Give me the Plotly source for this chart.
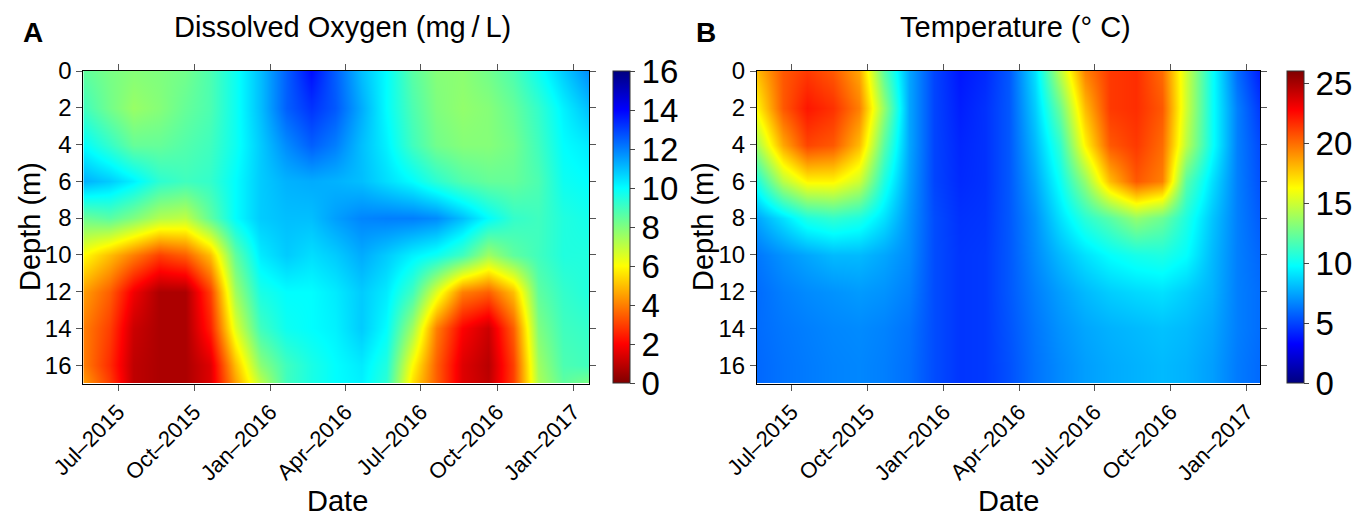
import plotly.graph_objects as go

# Sampling dates (monthly profiles) and depths
dates = ["2015-05-20", "2015-06-20", "2015-07-20", "2015-08-20", "2015-09-20",
         "2015-10-20", "2015-11-20", "2015-12-20", "2016-01-20", "2016-02-20",
         "2016-03-20", "2016-04-20", "2016-05-20", "2016-06-20", "2016-07-20",
         "2016-08-20", "2016-09-20", "2016-10-20", "2016-11-20", "2016-12-20",
         "2017-01-20"]
depths = [0, 2, 4, 6, 8, 10, 12, 14, 16, 17]

# Dissolved oxygen (mg/L), one list per depth
do_0m = [8.5, 8.1, 7.9, 8.0, 8.2, 8.8, 9.8, 11.0, 12.5, 13.8, 12.5, 11.0, 10.0, 8.6, 7.9, 7.8, 8.2, 8.8, 9.8, 10.8, 11.8]
do_2m = [9.0, 8.2, 7.6, 7.9, 8.4, 8.8, 9.8, 11.0, 12.5, 13.2, 12.6, 11.3, 10.0, 8.8, 8.0, 7.7, 7.9, 8.4, 9.2, 10.2, 11.0]
do_4m = [10.0, 9.2, 8.4, 8.4, 8.7, 9.0, 9.8, 10.8, 11.8, 12.5, 12.0, 11.0, 10.2, 9.0, 8.2, 7.9, 7.9, 8.2, 9.0, 10.0, 10.3]
do_6m = [11.2, 10.8, 10.2, 9.3, 9.0, 9.2, 10.0, 10.8, 11.2, 11.3, 11.2, 11.0, 10.5, 10.0, 9.3, 8.7, 8.4, 8.4, 8.8, 9.8, 10.0]
do_8m = [8.3, 8.6, 8.0, 7.2, 7.0, 8.5, 10.0, 10.8, 11.0, 11.0, 11.5, 11.9, 12.0, 12.0, 11.8, 11.0, 10.0, 9.2, 9.0, 9.5, 9.7]
do_10m = [6.0, 5.0, 4.0, 3.0, 3.5, 5.0, 8.5, 10.3, 10.8, 10.5, 10.8, 11.3, 10.8, 10.2, 9.8, 9.0, 7.5, 8.5, 9.0, 9.5, 9.5]
do_12m = [4.5, 3.5, 1.8, 0.7, 0.7, 3.0, 7.5, 9.6, 10.0, 10.0, 10.3, 10.8, 10.3, 9.0, 6.5, 4.0, 3.5, 5.0, 8.5, 9.2, 9.5]
do_14m = [4.0, 3.0, 1.2, 0.7, 0.7, 2.5, 6.5, 9.0, 9.8, 10.0, 10.2, 10.8, 10.0, 7.5, 4.0, 2.0, 1.2, 3.5, 8.0, 9.0, 9.2]
do_16m = [4.0, 2.7, 1.0, 0.7, 0.7, 1.5, 5.0, 7.8, 9.0, 9.6, 10.0, 10.3, 9.5, 6.0, 3.5, 1.5, 0.9, 3.0, 7.5, 8.8, 9.0]
do_17m = [4.5, 3.0, 1.0, 0.7, 0.7, 1.5, 4.5, 7.0, 9.0, 9.6, 10.0, 10.2, 9.3, 5.5, 3.5, 1.5, 1.0, 3.0, 7.3, 8.5, 8.0]

# Water temperature (deg C), one list per depth
temp_0m = [18.0, 20.5, 21.3, 20.5, 18.5, 12.0, 7.5, 5.0, 3.8, 4.3, 5.5, 9.0, 14.5, 19.5, 21.3, 21.6, 20.0, 15.0, 10.0, 6.0, 3.8]
temp_2m = [16.5, 20.5, 22.2, 21.5, 19.5, 13.5, 7.5, 5.0, 4.0, 4.5, 5.5, 8.5, 12.5, 18.0, 21.3, 21.6, 20.5, 15.0, 10.0, 6.5, 4.5]
temp_4m = [14.0, 18.5, 21.0, 20.5, 18.0, 12.0, 7.5, 5.0, 4.2, 4.5, 5.5, 8.0, 11.0, 16.5, 20.5, 21.3, 20.0, 14.5, 10.0, 6.5, 5.0]
temp_6m = [10.5, 14.5, 16.5, 16.5, 15.0, 10.5, 7.3, 5.0, 4.3, 4.5, 5.5, 7.5, 10.0, 13.5, 18.0, 20.5, 19.5, 12.0, 9.0, 6.5, 5.2]
temp_8m = [7.5, 9.0, 10.5, 11.0, 10.5, 9.0, 7.0, 5.2, 4.5, 4.6, 5.5, 7.0, 9.0, 10.8, 12.0, 13.5, 12.5, 10.5, 8.3, 6.5, 5.5]
temp_10m = [6.3, 7.0, 7.5, 8.0, 8.0, 7.5, 6.8, 5.2, 4.6, 4.7, 5.5, 6.8, 8.0, 9.0, 9.8, 10.3, 10.5, 9.8, 8.0, 6.5, 5.8]
temp_12m = [6.0, 6.5, 6.8, 7.0, 7.2, 7.0, 6.5, 5.2, 4.6, 4.7, 5.5, 6.5, 7.3, 8.0, 8.5, 8.8, 9.0, 8.5, 7.8, 6.5, 6.0]
temp_14m = [6.0, 6.3, 6.5, 6.7, 6.8, 6.6, 6.2, 5.2, 4.6, 4.7, 5.4, 6.3, 7.0, 7.5, 7.8, 8.0, 8.2, 8.0, 7.5, 6.5, 6.0]
temp_16m = [5.9, 6.2, 6.4, 6.6, 6.7, 6.5, 6.1, 5.2, 4.6, 4.7, 5.3, 6.2, 6.8, 7.3, 7.6, 7.8, 8.0, 7.8, 7.3, 6.4, 5.9]
temp_17m = [5.9, 6.2, 6.4, 6.6, 6.7, 6.5, 6.1, 5.2, 4.6, 4.7, 5.3, 6.2, 6.8, 7.3, 7.6, 7.8, 8.0, 7.8, 7.3, 6.4, 5.9]

# Axis tick labels
tick_dates = ["2015-07-01", "2015-10-01", "2016-01-01", "2016-04-01",
              "2016-07-01", "2016-10-01", "2017-01-01"]
tick_labels = ["Jul\u20132015", "Oct\u20132015", "Jan\u20132016", "Apr\u20132016",
               "Jul\u20132016", "Oct\u20132016", "Jan\u20132017"]
depth_ticks = [0, 2, 4, 6, 8, 10, 12, 14, 16]

do_grid = [do_0m, do_2m, do_4m, do_6m, do_8m, do_10m, do_12m, do_14m, do_16m, do_17m]
temp_grid = [temp_0m, temp_2m, temp_4m, temp_6m, temp_8m, temp_10m, temp_12m,
             temp_14m, temp_16m, temp_17m]

jet = [[0.0, "#00007F"], [0.125, "#0000FF"], [0.25, "#007FFF"], [0.375, "#00FFFF"],
       [0.5, "#7FFF7F"], [0.625, "#FFFF00"], [0.75, "#FF7F00"], [0.875, "#FF0000"],
       [1.0, "#7F0000"]]

FONT = "Liberation Sans, Arial, Helvetica, sans-serif"
W, H = 1359, 517


def px_x(p):
    return p / W


def px_y(p):
    return 1 - p / H


y_dom = [px_y(383.5), px_y(71)]
xa_dom = [px_x(83.3), px_x(589)]
xb_dom = [px_x(757), px_x(1260)]

cb_common = dict(
    thickness=17, thicknessmode="pixels", len=y_dom[1] - y_dom[0], lenmode="fraction",
    y=(y_dom[0] + y_dom[1]) / 2, yanchor="middle", xanchor="left", xpad=0, ypad=0,
    outlinecolor="#333333", outlinewidth=1, ticks="outside", ticklen=5,
    tickcolor="#444444", tickfont=dict(family=FONT, size=33, color="black"),
)

fig = go.Figure()
fig.add_trace(go.Heatmap(
    x=dates, y=depths, z=do_grid, colorscale=jet, reversescale=True,
    zmin=0, zmax=16, zsmooth="best", xaxis="x", yaxis="y",
    colorbar=dict(x=px_x(613.3), tickvals=[0, 2, 4, 6, 8, 10, 12, 14, 16], **cb_common),
))
fig.add_trace(go.Heatmap(
    x=dates, y=depths, z=temp_grid, colorscale=jet,
    zmin=0, zmax=26, zsmooth="best", xaxis="x2", yaxis="y2",
    colorbar=dict(x=px_x(1287.3), tickvals=[0, 5, 10, 15, 20, 25], **cb_common),
))

xcommon = dict(
    tickvals=tick_dates, ticktext=tick_labels, tickangle=-45, ticks="outside",
    ticklen=6, tickcolor="#555555", showline=True, linecolor="black", linewidth=1,
    mirror="allticks", showgrid=False, zeroline=False, automargin=False,
    tickfont=dict(family=FONT, size=22, color="black"),
)
ycommon = dict(
    range=[17, 0], tickvals=depth_ticks, ticks="outside", ticklen=6,
    tickcolor="#555555", showline=True, linecolor="black", linewidth=1,
    mirror="allticks", showgrid=False, zeroline=False, domain=y_dom, automargin=False,
    tickfont=dict(family=FONT, size=24, color="black"),
)

fig.update_layout(
    width=W, height=H, margin=dict(l=0, r=0, t=0, b=0, autoexpand=False),
    paper_bgcolor="white", plot_bgcolor="white",
    xaxis=dict(domain=xa_dom, range=["2015-05-20", "2017-01-20"], anchor="y", **xcommon),
    yaxis=dict(anchor="x", **ycommon),
    xaxis2=dict(domain=xb_dom, range=["2015-05-20", "2017-01-17"], anchor="y2", **xcommon),
    yaxis2=dict(anchor="x2", **ycommon),
    font=dict(family=FONT, color="black"),
    showlegend=False,
)

big = dict(family=FONT, size=29, color="black")
annotations = [
    dict(text="<b>A</b>", x=px_x(21), y=px_y(33), xanchor="left", yanchor="middle",
         font=dict(family=FONT, size=28, color="black")),
    dict(text="<b>B</b>", x=px_x(694), y=px_y(33), xanchor="left", yanchor="middle",
         font=dict(family=FONT, size=28, color="black")),
    dict(text="Dissolved Oxygen (mg\u2009/\u2009L)", x=px_x(342), y=px_y(27), xanchor="center",
         yanchor="middle", font=big),
    dict(text="Temperature (\u00b0 C)", x=px_x(1015), y=px_y(27), xanchor="center",
         yanchor="middle", font=big),
    dict(text="Depth (m)", x=px_x(30), y=px_y(227), textangle=-90, xanchor="center",
         yanchor="middle", font=big),
    dict(text="Depth (m)", x=px_x(703), y=px_y(227), textangle=-90, xanchor="center",
         yanchor="middle", font=big),
    dict(text="Date", x=px_x(337), y=px_y(501), xanchor="center", yanchor="middle", font=big),
    dict(text="Date", x=px_x(1008), y=px_y(501), xanchor="center", yanchor="middle", font=big),
]
for a in annotations:
    a.update(xref="paper", yref="paper", showarrow=False)
fig.update_layout(annotations=annotations)

fig.write_html("out.html")
